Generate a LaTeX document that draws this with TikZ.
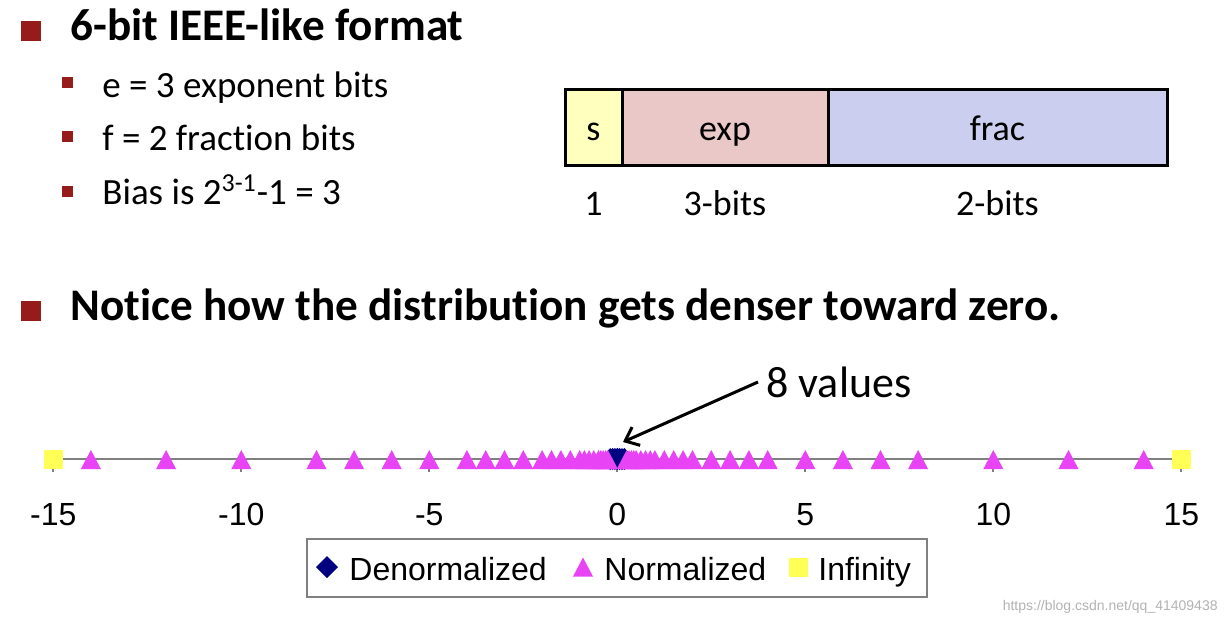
\documentclass[tikz,border=0pt]{standalone}
\usepackage{fontspec}
\setmainfont{Carlito}[Ligatures=NoCommon]
\newfontfamily\chartfont{Liberation Sans}
\usepackage{tikz}
\usetikzlibrary{positioning}
\usetikzlibrary{calc}
\usetikzlibrary{arrows.meta}

\definecolor{bulletred}{RGB}{150,28,28}
\definecolor{signyellow}{RGB}{255,255,190}
\definecolor{exppink}{RGB}{235,200,200}
\definecolor{fraclilac}{RGB}{204,206,240}
\definecolor{normmag}{RGB}{232,68,245}
\definecolor{denormnavy}{RGB}{0,0,128}
\definecolor{infyellow}{RGB}{255,255,85}
\definecolor{axisgray}{RGB}{128,128,128}

\tikzset{
    normmark/.pic={\fill[normmag] (-10,9.5) -- (10,9.5) -- (0,-9.5) -- cycle;},
    denormmark/.pic={\fill[denormnavy] (-11,0) -- (0,-11) -- (11,0) -- (0,11) -- cycle;},
    infmark/.pic={\fill[infyellow] (-9.5,-9.5) rectangle (9.5,9.5);}
}

\begin{document}
\begin{tikzpicture}[x=0.5pt, y=-0.5pt,
    bigbullet/.style={fill=bulletred, minimum size=10pt, inner sep=0pt},
    subbullet/.style={fill=bulletred, minimum size=5.5pt, inner sep=0pt},
    headtext/.style={anchor=base west, inner sep=0pt, font=\bfseries\fontsize{22.6}{26}\selectfont},
    bodytext/.style={anchor=base west, inner sep=0pt, font=\fontsize{18.5}{22}\selectfont},
    field/.style={draw, line width=1.5pt, minimum height=38pt, inner sep=0pt, outer sep=0pt,
        text height=14pt, text depth=1pt, font=\fontsize{18}{22}\selectfont},
    widthlbl/.style={anchor=base, inner sep=0pt, font=\fontsize{18}{22}\selectfont},
    ticklbl/.style={anchor=base, inner sep=0pt, font=\chartfont\fontsize{16}{19}\selectfont},
    legendtext/.style={anchor=base west, inner sep=0pt, font=\chartfont\fontsize{16}{19}\selectfont},
    axis/.style={draw=axisgray, line width=0.9pt},
    pointer/.style={line width=1.5pt, -{Straight Barb[length=6pt, width=10pt, line width=1.5pt]}}
]
    \useasboundingbox (0,0) rectangle (1226,622);

    % bullets
    \node[bigbullet] (b1) at (31,31) {};
    \node[headtext] (title) at (70,40) {6-bit IEEE-like format};
    \node[subbullet] (sb1) at (67.5,82) {};
    \node[subbullet] (sb2) at (67.5,136.5) {};
    \node[subbullet] (sb3) at (67.5,191.5) {};
    \node[bodytext] (ebits) at (102,97) {e = 3 exponent bits};
    \node[bodytext] (fbits) at (102,150) {f = 2 fraction bits};
    \node[bodytext] (bias) at (102,204) {Bias is 2\textsuperscript{3-1}-1 = 3};

    % bit fields
    \node[field, fill=signyellow, minimum width=28.5pt, anchor=north west] (s) at (565,89) {s};
    \node[field, fill=exppink, minimum width=103pt, right=0pt of s] (exp) {exp};
    \node[field, fill=fraclilac, minimum width=169.5pt, right=0pt of exp] (frac) {frac};
    \coordinate (lblrow) at (0,215);
    \node[widthlbl] (w1) at (s |- lblrow) {1};
    \node[widthlbl] (w3) at (exp |- lblrow) {3-bits};
    \node[widthlbl] (w2) at (frac |- lblrow) {2-bits};

    \node[bigbullet] (b2) at (31,311) {};
    \node[headtext] (notice) at (70,320) {Notice how the distribution gets denser toward zero.};

    % number line
    \coordinate (lineL) at (53.3,459);
    \coordinate (lineR) at (1181,459);
    \draw[axis] (lineL) -- (lineR);
    \foreach \t in {-15,-10,...,15} {
        \draw[axis] ({617.3+37.6*\t},459) -- ++(0,13);
        \node[ticklbl] (tick\t) at ({617.3+37.6*\t},525) {\t};
    }
    \foreach \v in {0,0.0625,0.125,0.1875} {
        \pic at ({617.3+37.6*\v},459) {denormmark};
        \pic at ({617.3-37.6*\v},459) {denormmark};
    }
    \foreach \v in {0.25,0.3125,0.375,0.4375,0.5,0.625,0.75,0.875,1,1.25,1.5,1.75,
                    2,2.5,3,3.5,4,5,6,7,8,10,12,14} {
        \pic at ({617.3+37.6*\v},459.5) {normmark};
        \pic at ({617.3-37.6*\v},459.5) {normmark};
    }
    \pic at (lineL) {infmark};
    \pic at (lineR) {infmark};

    % annotation
    \node[anchor=west, inner sep=4pt, font=\fontsize{22}{26}\selectfont] (vals) at (758,382) {8 values};
    \coordinate (zerotip) at (623,442);
    \draw[pointer] (vals.west) -- (zerotip);

    % legend
    \node[draw=axisgray, line width=0.8pt, minimum width=310pt, minimum height=29pt,
          inner sep=0pt, anchor=north west] (legend) at (306,538) {};
    \pic at (327,567) {denormmark};
    \node[legendtext] (ldenorm) at (349,580) {Denormalized};
    \pic at (583,567) {normmark};
    \node[legendtext] (lnorm) at (604,580) {Normalized};
    \pic at (798,567) {infmark};
    \node[legendtext] (linf) at (818,580) {Infinity};

    \node[anchor=base east, inner sep=0pt, text=black!30, font=\chartfont\fontsize{7}{8}\selectfont]
        (mark) at (1218,610) {https://blog.csdn.net/qq\_41409438};
\end{tikzpicture}
\end{document}
